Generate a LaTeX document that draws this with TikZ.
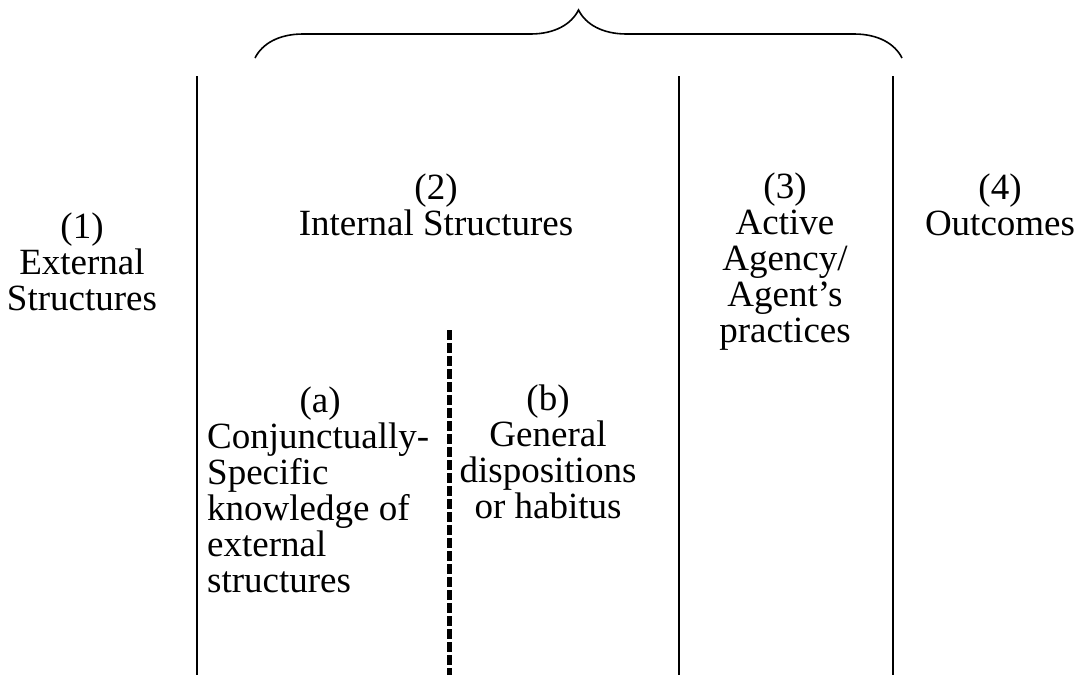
\documentclass[tikz,border=0pt]{standalone}
\usepackage{fontspec}
\setmainfont{Liberation Serif}
\usetikzlibrary{decorations.pathreplacing}

\begin{document}
\begin{tikzpicture}[x=1pt,y=1pt]
  \tikzstyle{label}=[inner sep=0pt,align=center,font=\fontsize{37}{36}\selectfont]
  \tikzstyle{divider}=[line width=1.6pt]
  \tikzstyle{split}=[line width=5pt,dash pattern=on 10pt off 3pt]
  \useasboundingbox (0,0) rectangle (1083,-675);

  \coordinate (braceL) at (255,-58);
  \coordinate (braceR) at (902,-58);
  \draw[line width=1.6pt,decorate,decoration={brace,amplitude=48pt}] (braceL) -- (braceR);

  \draw[divider] (197,-76) -- (197,-675);
  \draw[divider] (679,-76) -- (679,-675);
  \draw[divider] (893,-76) -- (893,-675);
  \draw[split] (449,-330) -- (449,-675);

  \node[label] (ext) at (82,-262) {(1)\\External\\Structures};
  \node[label] (int) at (436,-205) {(2)\\Internal Structures};
  \node[label] (act) at (785,-262) {(3)\\Active\\Agency/\\Agent’s\\practices};
  \node[label] (out) at (1000,-205) {(4)\\Outcomes};

  \node[label,align=flush left,text width=226pt,anchor=north west] (spec) at (207,-387)
    {\makebox[226pt]{(a)}\\Conjunctually-\\Specific\\knowledge of\\external\\structures};
  \node[label] (disp) at (548,-452) {(b)\\General\\dispositions\\or habitus};
\end{tikzpicture}
\end{document}
